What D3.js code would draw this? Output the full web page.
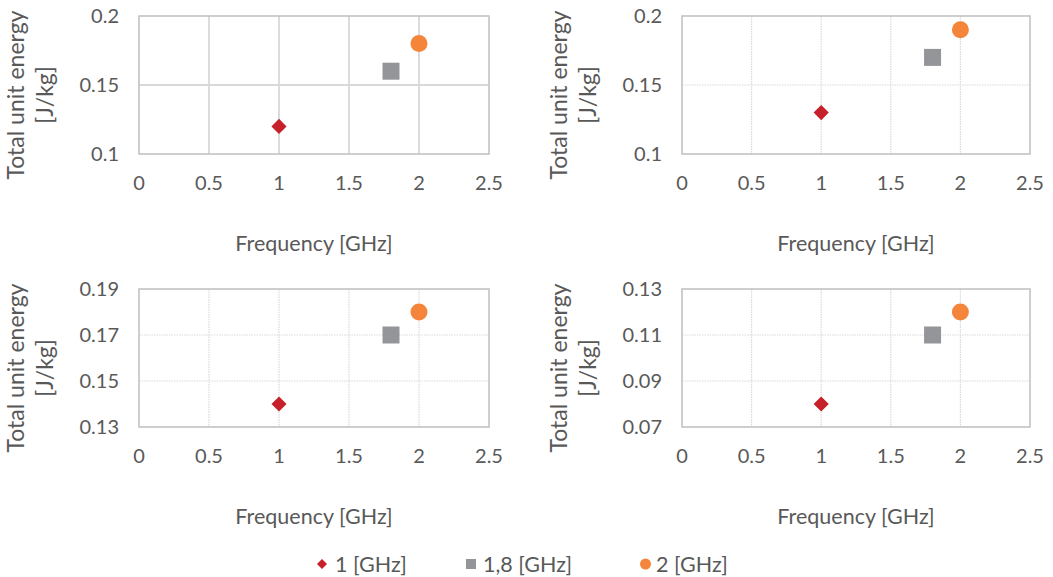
<!DOCTYPE html>
<html lang="en">
<head>
    <meta charset="UTF-8">
    <title>Total unit energy vs frequency</title>
    <script src="https://d3js.org/d3.v7.min.js"></script>
    <style>
        body { margin: 0; background: #fff; }
        text { font-family: Lato, "Open Sans", sans-serif; fill: #595959; }
    </style>
</head>
<body>
    <svg id="chart"></svg>
    <script>
        const width = 1053;
        const height = 577;

        // data
        const frequencies = [1, 1.8, 2];
        const seriesNames = ["1 [GHz]", "1,8 [GHz]", "2 [GHz]"];
        const energyA = [0.12, 0.16, 0.18];
        const energyB = [0.13, 0.17, 0.19];
        const energyC = [0.14, 0.17, 0.18];
        const energyD = [0.08, 0.11, 0.12];
        const xTicks = [0, 0.5, 1, 1.5, 2, 2.5];
        const yTicksA = [0.1, 0.15, 0.2];
        const yTicksC = [0.13, 0.15, 0.17, 0.19];
        const yTicksD = [0.07, 0.09, 0.11, 0.13];

        const colors = ["#c6202a", "#939598", "#f4853b"];
        const shapes = ["diamond", "square", "circle"];

        // one entry per small chart: plot box + values
        const panels = [
            {x0: 139, x1: 489, y0: 16, y1: 154, values: energyA, ticks: yTicksA, dotted: false},
            {x0: 682, x1: 1030, y0: 16, y1: 154, values: energyB, ticks: yTicksA, dotted: true},
            {x0: 139, x1: 489, y0: 289, y1: 427, values: energyC, ticks: yTicksC, dotted: true},
            {x0: 682, x1: 1030, y0: 289, y1: 427, values: energyD, ticks: yTicksD, dotted: true}
        ];

        const svg = d3.select("#chart")
            .attr("width", width)
            .attr("height", height);

        function drawMarker(g, shape, color) {
            if (shape === "diamond") {
                g.append("path")
                    .attr("d", d3.symbol(d3.symbolSquare, 115)())
                    .attr("transform", "rotate(45)")
                    .attr("fill", color);
            } else if (shape === "square") {
                g.append("path")
                    .attr("d", d3.symbol(d3.symbolSquare, 289)())
                    .attr("fill", color);
            } else {
                g.append("circle").attr("r", 8.5).attr("fill", color);
            }
        }

        panels.forEach(function(p) {
            const x = d3.scaleLinear().domain([0, 2.5]).range([p.x0, p.x1]);
            const y = d3.scaleLinear().domain(d3.extent(p.ticks)).range([p.y1, p.y0]);
            const g = svg.append("g");
            const dash = p.dotted ? "1.5,1" : null;

            // gridlines
            g.selectAll(".vgrid")
                .data(xTicks.slice(1, -1))
                .enter().append("line")
                .attr("x1", d => x(d)).attr("x2", d => x(d))
                .attr("y1", p.y0).attr("y2", p.y1)
                .attr("stroke", "#d9d9d9")
                .attr("stroke-width", p.dotted ? 1.2 : 1.8)
                .attr("stroke-dasharray", dash);
            g.selectAll(".hgrid")
                .data(p.ticks.slice(1, -1))
                .enter().append("line")
                .attr("x1", p.x0).attr("x2", p.x1)
                .attr("y1", d => y(d)).attr("y2", d => y(d))
                .attr("stroke", "#d9d9d9")
                .attr("stroke-width", p.dotted ? 1.2 : 1.8)
                .attr("stroke-dasharray", dash);

            // plot border
            g.append("rect")
                .attr("x", p.x0).attr("y", p.y0)
                .attr("width", p.x1 - p.x0).attr("height", p.y1 - p.y0)
                .attr("fill", "none")
                .attr("stroke", "#bfbfbf")
                .attr("stroke-width", 1.5);

            // tick labels
            g.selectAll(".xt")
                .data(xTicks)
                .enter().append("text")
                .attr("x", d => x(d))
                .attr("y", p.y1 + 36)
                .attr("text-anchor", "middle")
                .style("font-size", "20px")
                .text(d => d);
            g.selectAll(".yt")
                .data(p.ticks)
                .enter().append("text")
                .attr("x", p.x0 - 20)
                .attr("y", d => y(d) + 7)
                .attr("text-anchor", "end")
                .style("font-size", "20px")
                .text(d => d);

            // axis titles
            g.append("text")
                .attr("x", (p.x0 + p.x1) / 2)
                .attr("y", p.y1 + 97)
                .attr("text-anchor", "middle")
                .style("font-size", "21.5px")
                .text("Frequency [GHz]");
            const yt = g.append("text")
                .attr("transform", `translate(${p.x0 - 115}, ${(p.y0 + p.y1) / 2 + 10}) rotate(-90)`)
                .attr("text-anchor", "middle")
                .style("font-size", "23px");
            yt.append("tspan").attr("x", 0).attr("dy", 0).text("Total unit energy");
            yt.append("tspan").attr("x", 0).attr("dy", "1.25em").text("[J/kg]");

            // points
            frequencies.forEach(function(f, i) {
                const m = g.append("g")
                    .attr("transform", `translate(${x(f)}, ${y(p.values[i])})`);
                drawMarker(m, shapes[i], colors[i]);
            });
        });

        // legend
        const legendMarkX = [322, 471, 645.5];
        const legendTextX = [335, 483, 656];
        seriesNames.forEach(function(name, i) {
            const mk = svg.append("g").attr("transform", `translate(${legendMarkX[i]}, 564)`);
            if (shapes[i] === "diamond") {
                mk.append("path").attr("d", d3.symbol(d3.symbolSquare, 50)()).attr("transform", "rotate(45)").attr("fill", colors[i]);
            } else if (shapes[i] === "square") {
                mk.append("path").attr("d", d3.symbol(d3.symbolSquare, 100)()).attr("fill", colors[i]);
            } else {
                mk.append("circle").attr("r", 5.5).attr("fill", colors[i]);
            }
            svg.append("text")
                .attr("x", legendTextX[i])
                .attr("y", 572)
                .style("font-size", "21.5px")
                .text(name);
        });
    </script>
</body>
</html>
